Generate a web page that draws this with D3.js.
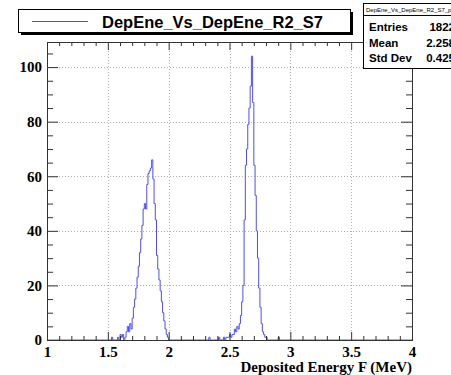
<!DOCTYPE html>
<html>
<head>
<meta charset="utf-8">
<script src="https://cdn.jsdelivr.net/npm/d3@7"></script>
<style>
  html, body { margin: 0; padding: 0; background: #fff; }
  svg { display: block; }
  .tick text { font-family: "Liberation Serif", "Times New Roman", serif; font-size: 15px; font-weight: bold; fill: #000; }
</style>
</head>
<body>
<script>
// Histogram of deposited energy, 0.01 MeV bins between 1 and 4 MeV.
const xRange = [1, 4];
const binWidth = 0.01;

// Lower edges of the non-empty bins and their contents.
const binLowEdges = [
  1.53, 1.58, 1.60, 1.61, 1.62, 1.64, 1.65, 1.66, 1.67, 1.68, 1.69,
  1.70, 1.71, 1.72, 1.73, 1.74, 1.75, 1.76, 1.77, 1.78, 1.79,
  1.80, 1.81, 1.82, 1.83, 1.84, 1.85, 1.86, 1.87, 1.88, 1.89,
  1.90, 1.91, 1.92, 1.93, 1.94, 1.95, 1.96, 1.97, 1.98, 1.99,
  2.33, 2.41, 2.45, 2.47, 2.48, 2.49,
  2.50, 2.51, 2.52, 2.53, 2.54, 2.55, 2.56, 2.57, 2.58, 2.59,
  2.60, 2.61, 2.62, 2.63, 2.64, 2.65, 2.66, 2.67, 2.68, 2.69,
  2.70, 2.71, 2.72, 2.73, 2.74, 2.75, 2.76, 2.77, 2.78, 2.79,
  2.80, 2.90
];
const binCounts = [
  1, 1, 2, 1, 2, 1, 3, 5, 3, 6, 4,
  8, 12, 15, 19, 23, 27, 32, 37, 42, 48,
  50, 48, 57, 61, 62, 63, 66, 59, 50, 44,
  31, 26, 22, 18, 14, 10, 7, 4, 2, 1,
  1, 1, 1, 1, 1, 1,
  2, 1, 2, 2, 4, 3, 5, 4, 6, 9,
  14, 20, 44, 64, 70, 79, 85, 93, 104, 87,
  64, 53, 40, 30, 19, 12, 6, 3, 2, 1,
  1, 1
];

const xMajorTicks = [1, 1.5, 2, 2.5, 3, 3.5, 4];
const xTickLabels = ["1", "1.5", "2", "2.5", "3", "3.5", "4"];
const yMajorTicks = [0, 20, 40, 60, 80, 100];
const yTickLabels = ["0", "20", "40", "60", "80", "100"];

const histName = "DepEne_Vs_DepEne_R2_S7";
const statsTitle = "DepEne_Vs_DepEne_R2_S7_p";
const statsLabels = ["Entries", "Mean", "Std Dev"];
const statsValues = ["1822", "2.258", "0.425"];
const xTitle = "Deposited Energy F (MeV)";

// Full list of bins, empty ones included
const nBins = Math.round((xRange[1] - xRange[0]) / binWidth);
const counts = new Array(nBins).fill(0);
binLowEdges.forEach((e, i) => {
  counts[Math.round((e - xRange[0]) / binWidth)] = binCounts[i];
});

const W = 451, H = 375;
const frame = { left: 47, right: 412, top: 42, bottom: 340 };
const histColor = "#4e4ef4";

const svg = d3.select("body").append("svg")
  .attr("width", W).attr("height", H);

const x = d3.scaleLinear().domain(xRange).range([frame.left, frame.right]);
const y = d3.scaleLinear().domain([0, d3.max(counts) * 1.05])
  .range([frame.bottom, frame.top]);

// Dotted grid at major ticks
const grid = svg.append("g").attr("stroke", "#b0b0b0")
  .attr("stroke-width", 1).attr("stroke-dasharray", "1,2");
xMajorTicks.slice(1, -1).forEach(v => {
  grid.append("line")
    .attr("x1", Math.round(x(v)) + 0.5).attr("x2", Math.round(x(v)) + 0.5)
    .attr("y1", frame.top).attr("y2", frame.bottom);
});
yMajorTicks.slice(1).forEach(v => {
  grid.append("line")
    .attr("x1", frame.left).attr("x2", frame.right)
    .attr("y1", Math.round(y(v)) + 0.5).attr("y2", Math.round(y(v)) + 0.5);
});

// Step outline of the histogram
const pts = [[xRange[0], 0]];
counts.forEach((c, i) => {
  const lo = xRange[0] + i * binWidth;
  pts.push([lo, c], [lo + binWidth, c]);
});
pts.push([xRange[1], 0]);
svg.append("path")
  .datum(pts)
  .attr("fill", "none")
  .attr("stroke", histColor)
  .attr("stroke-width", 1)
  .attr("d", d3.line().x(d => x(d[0])).y(d => y(d[1])));

// Axes with ticks pointing inside the frame
const axisColor = "#333";
const xMinor = d3.range(10, 41).map(v => v / 10).filter(v => !xMajorTicks.some(m => Math.abs(m - v) < 1e-9));
const yMinor = d3.range(0, 110, 5).filter(v => v % 20 !== 0);

function styleAxis(g) {
  g.select(".domain").attr("stroke", axisColor);
  g.selectAll(".tick line").attr("stroke", axisColor);
}

const fmtX = (d) => xTickLabels[xMajorTicks.indexOf(d)];
const fmtY = (d) => yTickLabels[yMajorTicks.indexOf(d)];

svg.append("g").attr("transform", `translate(0,${frame.bottom})`)
  .call(d3.axisBottom(x).tickValues(xMinor).tickSize(-4).tickSizeOuter(0).tickFormat(""))
  .call(styleAxis);
svg.append("g").attr("transform", `translate(0,${frame.bottom})`)
  .call(d3.axisBottom(x).tickValues(xMajorTicks).tickSize(-8).tickSizeOuter(0).tickPadding(6).tickFormat(fmtX))
  .call(styleAxis);
svg.append("g").attr("transform", `translate(0,${frame.top})`)
  .call(d3.axisTop(x).tickValues(xMinor).tickSize(-4).tickSizeOuter(0).tickFormat(""))
  .call(styleAxis);
svg.append("g").attr("transform", `translate(0,${frame.top})`)
  .call(d3.axisTop(x).tickValues(xMajorTicks).tickSize(-8).tickSizeOuter(0).tickFormat(""))
  .call(styleAxis);

svg.append("g").attr("transform", `translate(${frame.left},0)`)
  .call(d3.axisLeft(y).tickValues(yMinor).tickSize(-6).tickSizeOuter(0).tickFormat(""))
  .call(styleAxis);
svg.append("g").attr("transform", `translate(${frame.left},0)`)
  .call(d3.axisLeft(y).tickValues(yMajorTicks).tickSize(-11).tickSizeOuter(0).tickPadding(5).tickFormat(fmtY))
  .call(styleAxis);
svg.append("g").attr("transform", `translate(${frame.right},0)`)
  .call(d3.axisRight(y).tickValues(yMinor).tickSize(-6).tickSizeOuter(0).tickFormat(""))
  .call(styleAxis);
svg.append("g").attr("transform", `translate(${frame.right},0)`)
  .call(d3.axisRight(y).tickValues(yMajorTicks).tickSize(-11).tickSizeOuter(0).tickFormat(""))
  .call(styleAxis);

// Frame outline
svg.append("rect")
  .attr("x", frame.left + 0.5).attr("y", frame.top + 0.5)
  .attr("width", frame.right - frame.left).attr("height", frame.bottom - frame.top)
  .attr("fill", "none").attr("stroke", axisColor);

const labelFont = "'Liberation Serif', 'Times New Roman', serif";
svg.append("text")
  .attr("x", frame.right).attr("y", 372)
  .attr("text-anchor", "end")
  .style("font-family", labelFont).style("font-size", "15px").style("font-weight", "bold")
  .text(xTitle);

// Legend box with drop shadow
const sans = "'Liberation Sans', Arial, Helvetica, sans-serif";
const leg = { x: 18, y: 9, w: 332, h: 23 };
svg.append("rect").attr("x", leg.x + 3).attr("y", leg.y + 3)
  .attr("width", leg.w).attr("height", leg.h).attr("fill", "#000");
svg.append("rect").attr("x", leg.x + 0.5).attr("y", leg.y + 0.5)
  .attr("width", leg.w).attr("height", leg.h).attr("fill", "#fff").attr("stroke", "#000");
svg.append("line").attr("x1", 32).attr("x2", 88).attr("y1", 21.5).attr("y2", 21.5)
  .attr("stroke", histColor).attr("stroke-width", 1);
svg.append("text").attr("x", 102).attr("y", 27.5)
  .style("font-family", sans).style("font-size", "17px").style("font-weight", "bold")
  .attr("textLength", 221).attr("lengthAdjust", "spacingAndGlyphs")
  .text(histName);

// Statistics box, running past the right edge of the canvas
const st = { x: 363, y: 3, w: 110, h: 65 };
svg.append("rect").attr("x", st.x + 1).attr("y", st.y + 1)
  .attr("width", st.w).attr("height", st.h).attr("fill", "#000");
svg.append("rect").attr("x", st.x + 0.5).attr("y", st.y + 0.5)
  .attr("width", st.w).attr("height", st.h).attr("fill", "#fff").attr("stroke", "#000");
svg.append("line").attr("x1", st.x).attr("x2", st.x + st.w)
  .attr("y1", 15.5).attr("y2", 15.5).attr("stroke", "#000");
svg.append("text").attr("x", 366).attr("y", 11.5)
  .style("font-family", sans).style("font-size", "6px")
  .text(statsTitle);
statsLabels.forEach((lab, i) => {
  const by = 31 + i * 15.5;
  svg.append("text").attr("x", 369).attr("y", by)
    .style("font-family", sans).style("font-size", "11.5px").style("font-weight", "bold")
    .text(lab);
  svg.append("text").attr("x", 455).attr("y", by)
    .attr("text-anchor", "end")
    .style("font-family", sans).style("font-size", "11.5px").style("font-weight", "bold")
    .text(statsValues[i]);
});
</script>
</body>
</html>
